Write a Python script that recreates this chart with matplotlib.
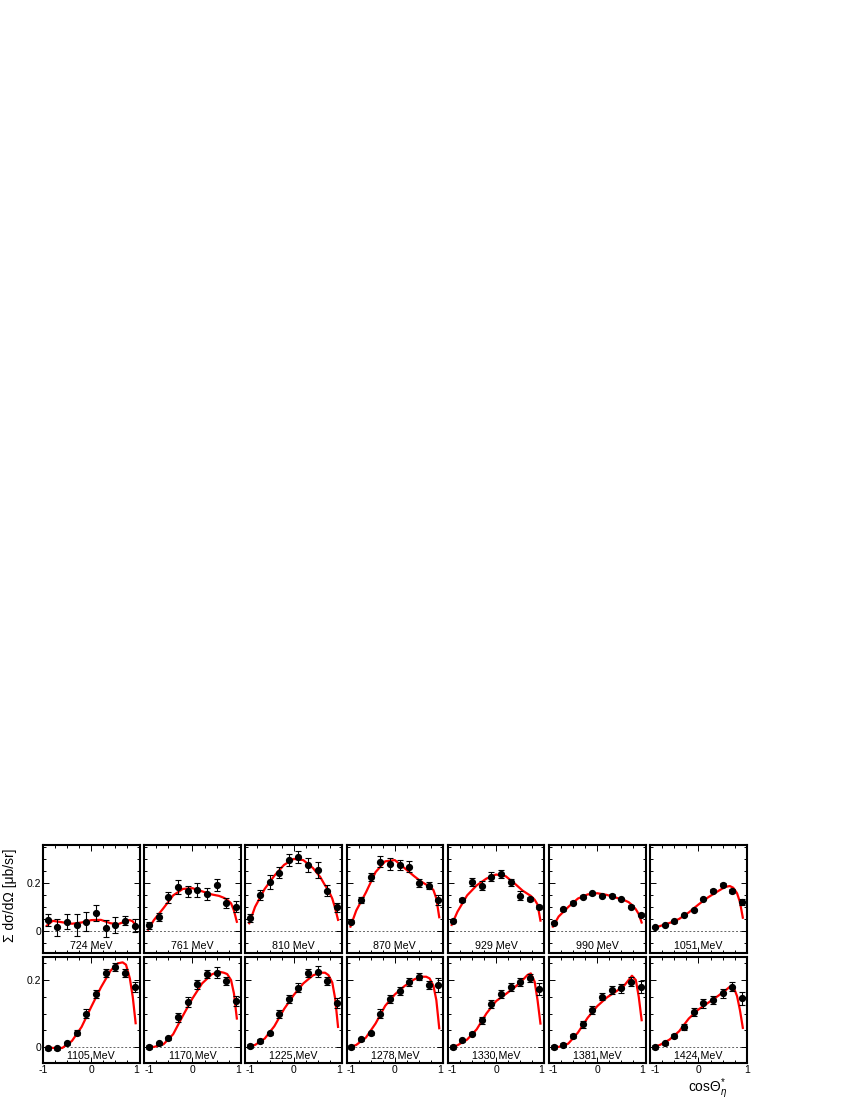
import numpy as np
import matplotlib
matplotlib.use("Agg")
import matplotlib.pyplot as plt
from matplotlib.ticker import MultipleLocator

plt.rcParams['font.family'] = ['Liberation Sans', 'DejaVu Sans']
plt.rcParams['mathtext.fontset'] = 'custom'
plt.rcParams['mathtext.rm'] = 'Liberation Sans'
plt.rcParams['mathtext.it'] = 'Liberation Sans:italic'

# ------------------------------------------------------------
# Data
# ------------------------------------------------------------
labels = ["724 MeV", "761 MeV", "810 MeV", "870 MeV", "929 MeV", "990 MeV", "1051 MeV",
          "1105 MeV", "1170 MeV", "1225 MeV", "1278 MeV", "1330 MeV", "1381 MeV", "1424 MeV"]

cos_pts = [-0.9, -0.7, -0.5, -0.3, -0.1, 0.1, 0.3, 0.5, 0.7, 0.9]

sig_724 = [0.046, 0.015, 0.039, 0.025, 0.039, 0.074, 0.011, 0.025, 0.043, 0.022]
sig_761 = [0.023, 0.058, 0.140, 0.183, 0.165, 0.170, 0.153, 0.192, 0.115, 0.100]
sig_810 = [0.053, 0.150, 0.203, 0.243, 0.296, 0.310, 0.275, 0.254, 0.168, 0.099]
sig_870 = [0.039, 0.129, 0.226, 0.289, 0.279, 0.275, 0.268, 0.201, 0.188, 0.129]
sig_929 = [0.043, 0.129, 0.205, 0.188, 0.225, 0.236, 0.203, 0.146, 0.133, 0.101]
sig_990 = [0.032, 0.090, 0.118, 0.143, 0.157, 0.146, 0.147, 0.133, 0.101, 0.067]
sig_1051 = [0.015, 0.025, 0.040, 0.067, 0.087, 0.133, 0.167, 0.192, 0.167, 0.119]
sig_1105 = [-0.004, -0.004, 0.011, 0.043, 0.100, 0.158, 0.220, 0.238, 0.220, 0.180]
sig_1170 = [0.000, 0.011, 0.026, 0.089, 0.135, 0.187, 0.218, 0.222, 0.198, 0.137]
sig_1225 = [0.003, 0.018, 0.041, 0.098, 0.143, 0.177, 0.220, 0.225, 0.198, 0.130]
sig_1278 = [0.000, 0.023, 0.041, 0.100, 0.143, 0.167, 0.193, 0.210, 0.185, 0.185]
sig_1330 = [0.000, 0.020, 0.040, 0.080, 0.128, 0.158, 0.180, 0.195, 0.207, 0.172]
sig_1381 = [0.000, 0.006, 0.033, 0.068, 0.110, 0.150, 0.170, 0.175, 0.195, 0.180]
sig_1424 = [0.000, 0.011, 0.033, 0.060, 0.105, 0.130, 0.140, 0.160, 0.180, 0.145]

err_724 = [0.026, 0.036, 0.033, 0.046, 0.039, 0.033, 0.035, 0.032, 0.019, 0.028]
err_761 = [0.014, 0.017, 0.022, 0.028, 0.024, 0.028, 0.026, 0.026, 0.021, 0.023]
err_810 = [0.017, 0.021, 0.028, 0.024, 0.026, 0.025, 0.028, 0.035, 0.023, 0.019]
err_870 = [0.008, 0.012, 0.017, 0.022, 0.024, 0.022, 0.024, 0.017, 0.015, 0.021]
err_929 = [0.006, 0.008, 0.016, 0.019, 0.019, 0.017, 0.015, 0.019, 0.010, 0.008]
err_990 = [0.005, 0.005, 0.005, 0.005, 0.006, 0.005, 0.005, 0.006, 0.006, 0.006]
err_1051 = [0.004, 0.004, 0.005, 0.005, 0.005, 0.005, 0.006, 0.006, 0.008, 0.012]
err_1105 = [0.005, 0.005, 0.005, 0.007, 0.012, 0.012, 0.012, 0.012, 0.012, 0.015]
err_1170 = [0.005, 0.005, 0.005, 0.013, 0.015, 0.013, 0.012, 0.016, 0.012, 0.015]
err_1225 = [0.005, 0.005, 0.005, 0.012, 0.013, 0.014, 0.012, 0.017, 0.012, 0.015]
err_1278 = [0.005, 0.005, 0.005, 0.012, 0.012, 0.012, 0.012, 0.010, 0.012, 0.021]
err_1330 = [0.005, 0.005, 0.005, 0.010, 0.012, 0.012, 0.012, 0.012, 0.012, 0.018]
err_1381 = [0.005, 0.005, 0.005, 0.010, 0.012, 0.010, 0.012, 0.013, 0.014, 0.018]
err_1424 = [0.005, 0.005, 0.005, 0.010, 0.012, 0.013, 0.013, 0.013, 0.013, 0.020]

# fit curves, read at these cos values
curve_x = [-0.92, -0.8, -0.6, -0.4, -0.2, 0.0, 0.2, 0.4, 0.55, 0.65, 0.72, 0.8, 0.86, 0.92]

fit_724 = [0.022, 0.042, 0.036, 0.030, 0.035, 0.045, 0.046, 0.032, 0.028, 0.035, 0.042, 0.045, 0.040, 0.022]
fit_761 = [0.005, 0.045, 0.095, 0.148, 0.175, 0.178, 0.165, 0.152, 0.146, 0.138, 0.130, 0.115, 0.085, 0.038]
fit_810 = [0.032, 0.100, 0.175, 0.230, 0.275, 0.300, 0.295, 0.262, 0.225, 0.190, 0.170, 0.135, 0.095, 0.046]
fit_870 = [0.018, 0.085, 0.160, 0.245, 0.290, 0.295, 0.262, 0.228, 0.205, 0.193, 0.187, 0.170, 0.135, 0.057]
fit_929 = [0.025, 0.080, 0.148, 0.190, 0.218, 0.235, 0.228, 0.195, 0.168, 0.155, 0.146, 0.130, 0.110, 0.043]
fit_990 = [0.018, 0.060, 0.100, 0.135, 0.152, 0.157, 0.150, 0.138, 0.129, 0.120, 0.108, 0.090, 0.070, 0.035]
fit_1051 = [0.012, 0.020, 0.033, 0.050, 0.077, 0.110, 0.140, 0.165, 0.183, 0.187, 0.180, 0.157, 0.120, 0.055]
fit_1105 = [0.000, -0.003, -0.003, 0.018, 0.060, 0.120, 0.178, 0.228, 0.250, 0.253, 0.246, 0.205, 0.150, 0.071]
fit_1170 = [0.000, 0.000, 0.008, 0.038, 0.093, 0.145, 0.190, 0.217, 0.225, 0.222, 0.218, 0.200, 0.160, 0.085]
fit_1225 = [0.001, 0.006, 0.025, 0.062, 0.113, 0.155, 0.190, 0.214, 0.222, 0.222, 0.215, 0.193, 0.145, 0.060]
fit_1278 = [0.000, 0.006, 0.028, 0.070, 0.123, 0.157, 0.182, 0.202, 0.210, 0.210, 0.205, 0.183, 0.140, 0.056]
fit_1330 = [0.000, 0.005, 0.022, 0.053, 0.100, 0.137, 0.158, 0.180, 0.200, 0.215, 0.220, 0.195, 0.140, 0.070]
fit_1381 = [0.000, 0.000, 0.010, 0.043, 0.087, 0.122, 0.148, 0.167, 0.182, 0.200, 0.213, 0.200, 0.150, 0.080]
fit_1424 = [0.000, 0.006, 0.022, 0.047, 0.085, 0.112, 0.132, 0.152, 0.168, 0.180, 0.182, 0.152, 0.110, 0.057]

sigmas = [sig_724, sig_761, sig_810, sig_870, sig_929, sig_990, sig_1051,
          sig_1105, sig_1170, sig_1225, sig_1278, sig_1330, sig_1381, sig_1424]
errors = [err_724, err_761, err_810, err_870, err_929, err_990, err_1051,
          err_1105, err_1170, err_1225, err_1278, err_1330, err_1381, err_1424]
fits = [fit_724, fit_761, fit_810, fit_870, fit_929, fit_990, fit_1051,
        fit_1105, fit_1170, fit_1225, fit_1278, fit_1330, fit_1381, fit_1424]

# ------------------------------------------------------------
# Figure layout (pixel based, 850 x 1100)
# ------------------------------------------------------------
W, H = 850, 1100
fig = plt.figure(figsize=(8.5, 11), dpi=100)

col_left = 43
col_pitch = 101.2
col_width = 96.5
rows = [
    # top px, bottom px, ylim, label baseline (axes frac)
    (845, 953, (-0.092, 0.358), 0.035),
    (957, 1063, (-0.048, 0.269), 0.04),
]

for i in range(14):
    r, c = divmod(i, 7)
    top, bot, ylim, lab_y = rows[r]
    x0 = col_left + c * col_pitch
    ax = fig.add_axes([x0 / W, 1 - bot / H, col_width / W, (bot - top) / H])

    ax.axhline(0, color="#666666", lw=0.7, ls=(0, (2, 2)), zorder=1)
    ax.plot(curve_x, fits[i], color="red", lw=1.6, zorder=2)
    ax.errorbar(cos_pts, sigmas[i], yerr=errors[i], fmt="o", color="black",
                ms=4.2, elinewidth=0.8, capsize=2.2, capthick=0.8, zorder=3)

    ax.text(0.5, lab_y, labels[i], transform=ax.transAxes, ha="center",
            va="baseline", fontsize=7.7)

    ax.set_xlim(-1.0, 1.0)
    ax.set_ylim(*ylim)
    ax.xaxis.set_major_locator(MultipleLocator(1))
    ax.xaxis.set_minor_locator(MultipleLocator(0.25))
    ax.yaxis.set_major_locator(MultipleLocator(0.2))
    ax.yaxis.set_minor_locator(MultipleLocator(0.05))
    ax.tick_params(which="both", direction="in", top=True, right=True,
                   width=0.7, labelsize=7.5, pad=1.5)
    ax.tick_params(which="major", length=4)
    ax.tick_params(which="minor", length=2)
    for s in ax.spines.values():
        s.set_linewidth(1.5)

    if c != 0:
        ax.set_yticklabels([])
    else:
        ax.set_yticks([0, 0.2])
        ax.set_yticklabels(["0", "0.2"])
    if r == 0:
        ax.set_xticklabels([])
    else:
        ax.set_xticks([-1, 0, 1])
        ax.set_xticklabels(["-1", "0", "1"])
        xl = ax.get_xticklabels()
        # neighbouring panels share the edge: keep "1" and "-1" apart
        if c > 0:
            xl[0].set_ha("left")
        if c < 6:
            xl[2].set_ha("right")

fig.text(10 / W, 1 - 895 / H, "Σ dσ/dΩ [μb/sr]", rotation=90,
         ha="center", va="center", fontsize=10)
fig.text(708 / W, 1 - 1089 / H, r"cos$\Theta^{*}_{\eta}$",
         ha="center", va="center", fontsize=10)

fig.savefig("out.png", dpi=100)
